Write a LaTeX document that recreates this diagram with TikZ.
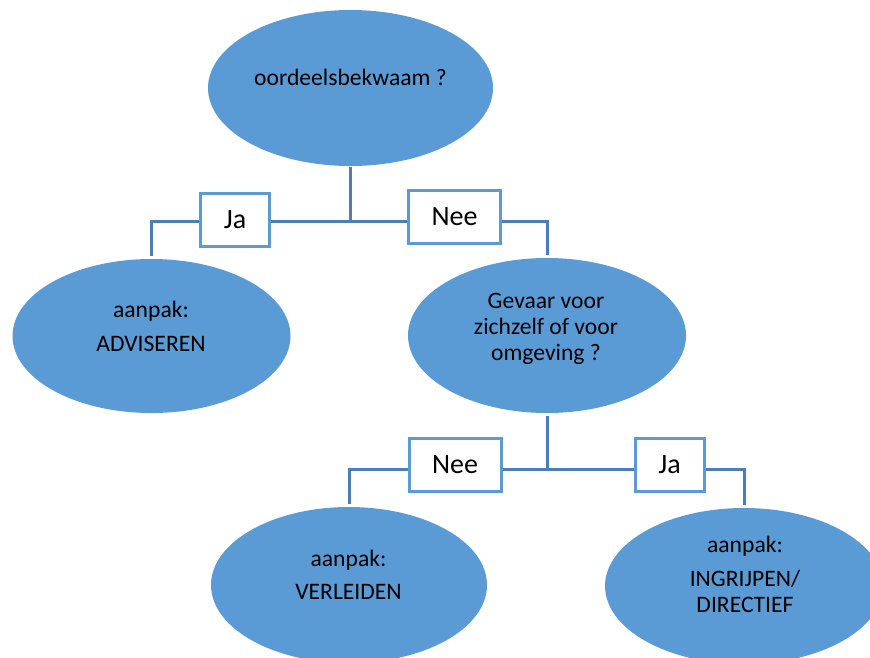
\documentclass[tikz,border=0pt]{standalone}
\usepackage{fontspec}
\setmainfont{Carlito}
\usetikzlibrary{shapes.geometric}
\definecolor{VakBlauw}{HTML}{5B9BD5}
\definecolor{LijnBlauw}{HTML}{4A7EBB}

\begin{document}
\begin{tikzpicture}[x=1pt, y=1pt,
    vraag/.style={ellipse, fill=VakBlauw, inner sep=0pt},
    tekst/.style={align=center, anchor=base, inner sep=0pt, text=black, font=\fontsize{23.6pt}{26pt}\selectfont},
    keuze/.style={draw=VakBlauw, line width=3pt, fill=white, minimum height=53pt, inner sep=0pt, text=black, font=\fontsize{28pt}{30pt}\selectfont},
    verbinding/.style={draw=LijnBlauw, line width=3pt, shorten <=3pt, shorten >=3pt}]
    \clip (0,0) rectangle (870,-657);

    % Vraag 1
    \node[vraag, minimum width=285pt, minimum height=156pt] (oordeel) at (350.5,-88) {};
    \node[tekst] (oordeel-t) at (350.5,-85) {oordeelsbekwaam ?};

    % Uitkomsten niveau 1
    \node[vraag, minimum width=278pt, minimum height=154pt] (adviseren) at (151.5,-336) {};
    \node[tekst] (adviseren-t) at (151,-351) {aanpak:\\[8pt]ADVISEREN};
    \node[vraag, minimum width=278pt, minimum height=155pt] (gevaar) at (547,-335.5) {};
    \node[tekst] (gevaar-t) at (546,-360) {Gevaar voor\\zichzelf of voor\\omgeving ?};

    % Uitkomsten niveau 2
    \node[vraag, minimum width=276pt, minimum height=156pt] (verleiden) at (349,-585) {};
    \node[tekst] (verleiden-t) at (348.5,-599) {aanpak:\\[7pt]VERLEIDEN};
    \node[vraag, minimum width=278pt, minimum height=156pt] (ingrijpen) at (744,-586) {};
    \node[tekst] (ingrijpen-t) at (745,-612) {aanpak:\\[8pt]INGRIJPEN/\\DIRECTIEF};

    % Vertakking 1
    \coordinate (splits1) at (350.5,-221);
    \draw[verbinding, shorten <=1pt, shorten >=0pt] (oordeel.south) -- (splits1);
    \draw[verbinding] (adviseren.north) |- (splits1) -| (gevaar.north);
    \node[keuze, minimum width=69pt] (ja1) at (235,-220) {Ja};
    \node[keuze, minimum width=92pt] (nee1) at (454.5,-217) {Nee};

    % Vertakking 2
    \coordinate (splits2) at (547,-469);
    \draw[verbinding, shorten >=0pt] (gevaar.south) -- (splits2);
    \draw[verbinding] (verleiden.north) |- (splits2) -| (ingrijpen.north);
    \node[keuze, minimum width=92pt] (nee2) at (455,-465) {Nee};
    \node[keuze, minimum width=69pt] (ja2) at (669.5,-465) {Ja};
\end{tikzpicture}
\end{document}
